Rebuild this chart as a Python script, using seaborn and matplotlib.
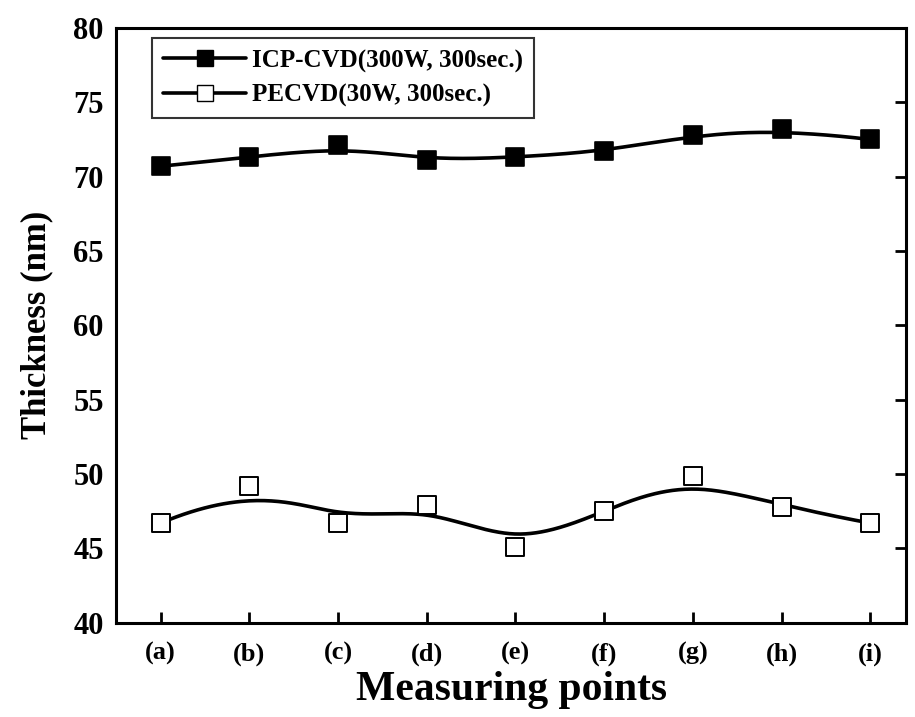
import numpy as np
import pandas as pd
import matplotlib
matplotlib.use("Agg")
import matplotlib.pyplot as plt
from matplotlib.lines import Line2D
import seaborn as sns

# ---- data ----
points = ["(a)", "(b)", "(c)", "(d)", "(e)", "(f)", "(g)", "(h)", "(i)"]
icp_cvd = [70.7, 71.3, 72.1, 71.1, 71.3, 71.7, 72.8, 73.2, 72.5]
pecvd = [46.7, 49.2, 46.7, 47.9, 45.1, 47.5, 49.9, 47.8, 46.7]
label_icp = "ICP-CVD(300W, 300sec.)"
label_pe = "PECVD(30W, 300sec.)"
y_ticks = [40, 45, 50, 55, 60, 65, 70, 75, 80]


def bspline(xs, ys, n=400):
    """Clamped uniform cubic B-spline using the data points as control points
    (the 'B-Spline' line connection used by Origin)."""
    P = np.column_stack([xs, ys]).astype(float)
    k = 3
    m = len(P)
    inner = np.arange(1, m - k)
    knots = np.concatenate([np.zeros(k + 1), inner, np.full(k + 1, m - k)]).astype(float)
    ts = np.linspace(0, m - k, n)
    ts[-1] -= 1e-9
    out = []
    for t in ts:
        N = np.array([1.0 if knots[i] <= t < knots[i + 1] else 0.0 for i in range(len(knots) - 1)])
        for d in range(1, k + 1):
            Nn = np.zeros(len(knots) - 1 - d)
            for i in range(len(Nn)):
                a = 0.0
                if knots[i + d] != knots[i]:
                    a = (t - knots[i]) / (knots[i + d] - knots[i]) * N[i]
                b = 0.0
                if knots[i + d + 1] != knots[i + 1]:
                    b = (knots[i + d + 1] - t) / (knots[i + d + 1] - knots[i + 1]) * N[i + 1]
                Nn[i] = a + b
            N = Nn
        out.append(N @ P)
    out = np.array(out)
    return out[:, 0], out[:, 1]


xpos = np.arange(len(points))
cx1, cy1 = bspline(xpos, icp_cvd)
cx2, cy2 = bspline(xpos, pecvd)

curves = pd.concat([
    pd.DataFrame({"x": cx1, "y": cy1, "series": label_icp}),
    pd.DataFrame({"x": cx2, "y": cy2, "series": label_pe}),
])
pts = pd.concat([
    pd.DataFrame({"x": xpos, "y": icp_cvd, "series": label_icp}),
    pd.DataFrame({"x": xpos, "y": pecvd, "series": label_pe}),
])

sns.set_theme(style="white")
plt.rcParams["font.family"] = ["Liberation Serif", "DejaVu Serif"]
plt.rcParams["font.weight"] = "bold"
plt.rcParams["text.color"] = "black"
plt.rcParams["axes.labelcolor"] = "black"
plt.rcParams["xtick.color"] = "black"
plt.rcParams["ytick.color"] = "black"

fig = plt.figure(figsize=(9.15, 7.17), dpi=100)
ax = fig.add_axes([0.127, 0.1315, 0.863, 0.8295])

sns.lineplot(data=curves, x="x", y="y", hue="series", palette=["black", "black"],
             linewidth=2.6, sort=False, estimator=None, legend=False, ax=ax, zorder=2)
sns.scatterplot(data=pts[pts.series == label_icp], x="x", y="y", marker="s", s=160,
                color="black", edgecolor="black", linewidth=1.2, legend=False, ax=ax, zorder=3)
sns.scatterplot(data=pts[pts.series == label_pe], x="x", y="y", marker="s", s=160,
                color="white", edgecolor="black", linewidth=1.4, legend=False, ax=ax, zorder=3)

ax.set_xlim(-0.5, 8.4)
ax.set_ylim(40, 80)
ax.set_xticks(xpos)
ax.set_xticklabels(points)
ax.set_yticks(y_ticks)
ax.set_yticklabels([str(v) for v in y_ticks])
ax.set_xlabel("Measuring points", fontsize=30, fontweight="bold", labelpad=4,
              color="black")
ax.set_ylabel("Thickness (nm)", fontsize=25, fontweight="bold", labelpad=14,
              color="black")

for sp in ax.spines.values():
    sp.set_visible(True)
    sp.set_color("black")
    sp.set_linewidth(2.2)

ax.tick_params(axis="both", direction="in", length=8, width=2, color="black",
               labelcolor="black")
ax.tick_params(axis="y", right=True, labelsize=22, pad=9)
ax.tick_params(axis="x", bottom=True, labelsize=19, pad=14)
for lab in ax.get_xticklabels() + ax.get_yticklabels():
    lab.set_fontweight("bold")

handles = [
    Line2D([], [], color="black", linewidth=2.6, marker="s", markersize=12,
           markerfacecolor="black", markeredgecolor="black"),
    Line2D([], [], color="black", linewidth=2.6, marker="s", markersize=12,
           markerfacecolor="white", markeredgecolor="black"),
]
leg = ax.legend(handles, [label_icp, label_pe], loc="upper left",
                bbox_to_anchor=(0.036, 0.996), frameon=True, fancybox=False,
                edgecolor="black", handlelength=3.3, handletextpad=0.25,
                borderpad=0.45, labelspacing=0.45, borderaxespad=0.3,
                prop={"family": "Liberation Serif", "weight": "bold", "size": 18})
leg.get_frame().set_linewidth(1.5)

fig.savefig("out.png", dpi=100, facecolor="white")
